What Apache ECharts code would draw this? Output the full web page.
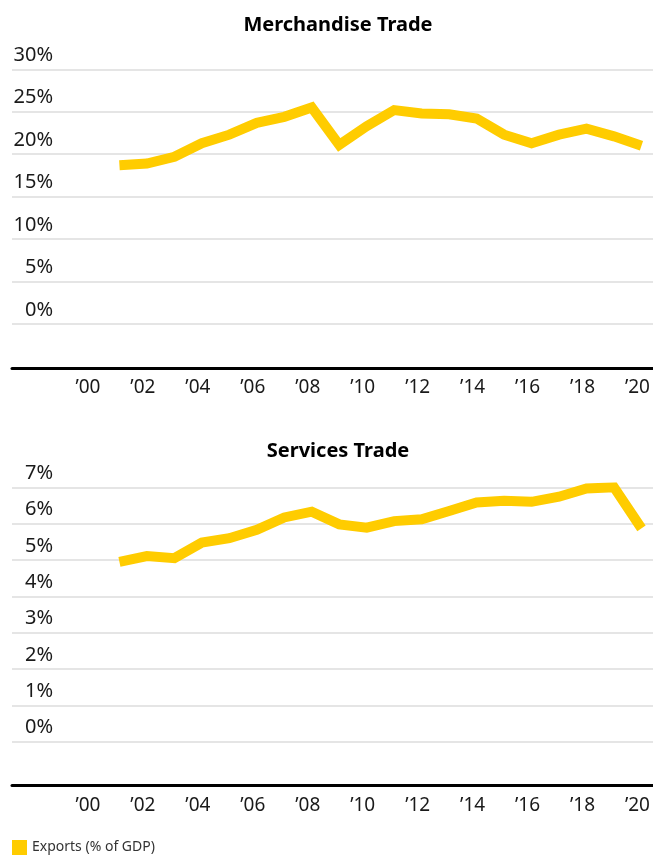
<!DOCTYPE html>
<html>
<head>
<meta charset="utf-8">
<script src="https://cdn.jsdelivr.net/npm/echarts@6/dist/echarts.min.js"></script>
<style>
  html, body { margin: 0; padding: 0; background: #ffffff; }
  #chart { width: 653px; height: 856px; }
</style>
</head>
<body>
<div id="chart"></div>
<script>
// data
const years = [2001, 2002, 2003, 2004, 2005, 2006, 2007, 2008, 2009, 2010,
  2011, 2012, 2013, 2014, 2015, 2016, 2017, 2018, 2019, 2020]
const merchandiseExports = [18.7, 18.9, 19.7, 21.3, 22.3, 23.7, 24.4, 25.5, 21.1, 23.3,
  25.2, 24.8, 24.7, 24.2, 22.3, 21.3, 22.3, 23.0, 22.1, 21.0]
const servicesExports = [4.95, 5.11, 5.05, 5.48, 5.6, 5.83, 6.17, 6.33, 5.98, 5.89,
  6.07, 6.12, 6.35, 6.58, 6.63, 6.6, 6.74, 6.97, 7.0, 5.87]
const yearTicks = [2000, 2002, 2004, 2006, 2008, 2010, 2012, 2014, 2016, 2018, 2020]
const merchandiseTicks = [0, 5, 10, 15, 20, 25, 30]
const servicesTicks = [0, 1, 2, 3, 4, 5, 6, 7]
const seriesName = 'Exports (% of GDP)'

const FONT = 'Noto Sans'
const LINE_COLOR = '#ffcc00'
const TEXT_COLOR = '#1a1a1a'
const GRID_COLOR = '#dcdcdc'

const chart = echarts.init(document.getElementById('chart'), null, { renderer: 'canvas' })

const makeXAxis = (gridIndex) => ({
  type: 'value',
  gridIndex,
  min: 1997.09,
  max: 2020.42,
  offset: 44,
  axisLine: { show: true, onZero: false, lineStyle: { color: '#000000', width: 3 } },
  axisTick: { show: false },
  splitLine: { show: false },
  axisLabel: {
    customValues: yearTicks,
    formatter: (v) => '\u2019' + String(v).slice(2),
    color: TEXT_COLOR,
    fontFamily: FONT,
    fontSize: 19,
    margin: 10,
    padding: [0, 8, 0, 0],
  },
})

const makeYAxis = (gridIndex, ticks) => ({
  type: 'value',
  gridIndex,
  min: ticks[0],
  max: ticks[ticks.length - 1],
  interval: ticks[1] - ticks[0],
  axisLine: { show: false },
  axisTick: { show: false },
  axisLabel: {
    formatter: '{value}%',
    color: TEXT_COLOR,
    fontFamily: FONT,
    fontSize: 20,
    align: 'right',
    verticalAlign: 'bottom',
    margin: -41,
    padding: [0, 0, 4, 0],
  },
  splitLine: { lineStyle: { color: GRID_COLOR, width: 1.5 } },
})

const makeSeries = (index, values) => ({
  name: seriesName,
  type: 'line',
  xAxisIndex: index,
  yAxisIndex: index,
  data: years.map((y, i) => [y, values[i]]),
  showSymbol: false,
  color: LINE_COLOR,
  lineStyle: { color: LINE_COLOR, width: 10, cap: 'butt', join: 'miter' },
})

const titleStyle = { color: '#000000', fontFamily: FONT, fontSize: 20, fontWeight: 'bold' }

chart.setOption({
  animation: false,
  title: [
    { text: 'Merchandise Trade', left: 333, top: 10, textAlign: 'center', textStyle: titleStyle },
    { text: 'Services Trade', left: 333, top: 436, textAlign: 'center', textStyle: titleStyle },
  ],
  legend: {
    data: [seriesName],
    left: 12,
    top: 840,
    padding: 0,
    icon: 'rect',
    itemWidth: 15,
    itemHeight: 15,
    textStyle: { color: '#333333', fontFamily: FONT, fontSize: 14 },
  },
  grid: [
    { left: 12, right: 0, top: 69.3, height: 254.7 },
    { left: 12, right: 0, top: 487.3, height: 254.4 },
  ],
  xAxis: [makeXAxis(0), makeXAxis(1)],
  yAxis: [makeYAxis(0, merchandiseTicks), makeYAxis(1, servicesTicks)],
  series: [makeSeries(0, merchandiseExports), makeSeries(1, servicesExports)],
})
</script>
</body>
</html>
